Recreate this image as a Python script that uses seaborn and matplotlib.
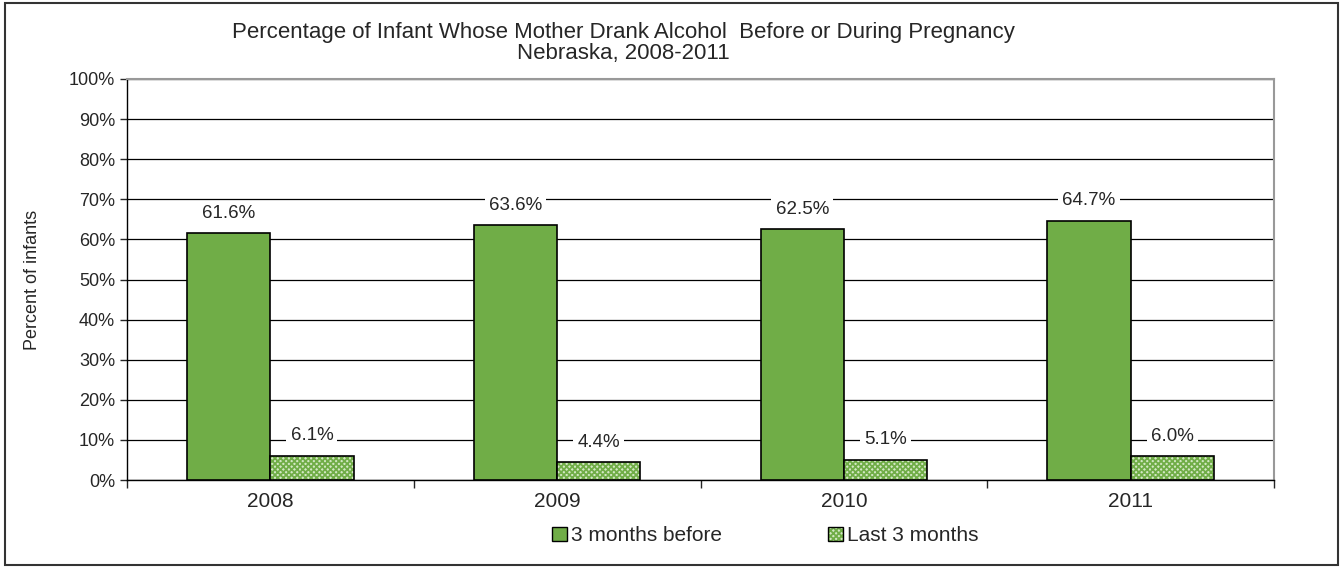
import matplotlib
matplotlib.use("Agg")
from matplotlib import pyplot as plt
from matplotlib.ticker import PercentFormatter, FixedLocator
from matplotlib.patches import Patch
from matplotlib.colors import to_rgba
import seaborn as sns
import pandas as pd

years = ["2008", "2009", "2010", "2011"]
before = [61.6, 63.6, 62.5, 64.7]
last3 = [6.1, 4.4, 5.1, 6.0]
series = ["3 months before", "Last 3 months"]

green = "#70ad47"
light = "#d3e8c4"

df = pd.DataFrame({
    "year": years * 2,
    "pct": before + last3,
    "series": [series[0]] * 4 + [series[1]] * 4,
})

sns.set_style("white")
plt.rcParams["font.family"] = ["Liberation Sans", "DejaVu Sans"]
plt.rcParams["hatch.linewidth"] = 1.3


def checker(p):
    # green checker pattern inside a black outline
    p.set_facecolor(light)
    p.set_hatch("xxxxxx")
    p.set_edgecolor("black")
    p._hatch_color = to_rgba(green)
    p.stale = True


fig = plt.figure(figsize=(13.43, 5.67), dpi=100)
ax = fig.add_axes([0.0946, 0.1534, 0.854, 0.7073])

sns.barplot(data=df, x="year", y="pct", hue="series", palette=[green, light],
            saturation=1, width=0.58, edgecolor="black", linewidth=1.2, ax=ax,
            zorder=3, legend=False)

n = len(years)
for p in ax.patches[n:2 * n]:
    checker(p)

ax.set_ylim(0, 100)
ax.set_xlim(-0.5, n - 0.5)
ax.yaxis.set_major_locator(FixedLocator(range(0, 101, 10)))
ax.yaxis.set_major_formatter(PercentFormatter(decimals=0))
ax.grid(axis="y", color="black", linewidth=0.9, zorder=0)
ax.set_axisbelow(True)

for s in ["top", "right"]:
    ax.spines[s].set_color("#999999")
    ax.spines[s].set_linewidth(1.5)
for s in ["left", "bottom"]:
    ax.spines[s].set_color("black")
    ax.spines[s].set_linewidth(1.0)

ax.tick_params(axis="y", left=True, length=5, width=1, labelsize=13, direction="out")
ax.tick_params(axis="x", bottom=False, labelsize=15, pad=5)
ax.xaxis.set_minor_locator(FixedLocator([i - 0.5 for i in range(n + 1)]))
ax.tick_params(axis="x", which="minor", bottom=True, length=6, width=1, direction="out")

ax.set_xlabel("")
ax.set_ylabel("Percent of infants", fontsize=13, labelpad=20)

for c in ax.containers:
    ax.bar_label(c, labels=[f"{v:.1f}%" for v in c.datavalues], padding=8,
                 fontsize=13.5, bbox=dict(facecolor="white", edgecolor="none", pad=3))

fig.text(0.464, 0.942, "Percentage of Infant Whose Mother Drank Alcohol  Before or During Pregnancy",
         ha="center", va="center", fontsize=16)
fig.text(0.464, 0.906, "Nebraska, 2008-2011", ha="center", va="center", fontsize=16)

h1 = Patch(facecolor=green, edgecolor="black", linewidth=1)
h2 = Patch(edgecolor="black", linewidth=1)
checker(h2)
fig.legend([h1, h2], series, loc="center", bbox_to_anchor=(0.570, 0.055), ncol=2,
           frameon=False, fontsize=15, handlelength=0.7, handleheight=0.7,
           handletextpad=0.2, columnspacing=5.1)

# outer border
fig.patches.append(plt.Rectangle((0.004, 0.004), 0.992, 0.99, transform=fig.transFigure,
                                 fill=False, edgecolor="#333333", linewidth=1.5))

fig.savefig("out.png", dpi=100)
